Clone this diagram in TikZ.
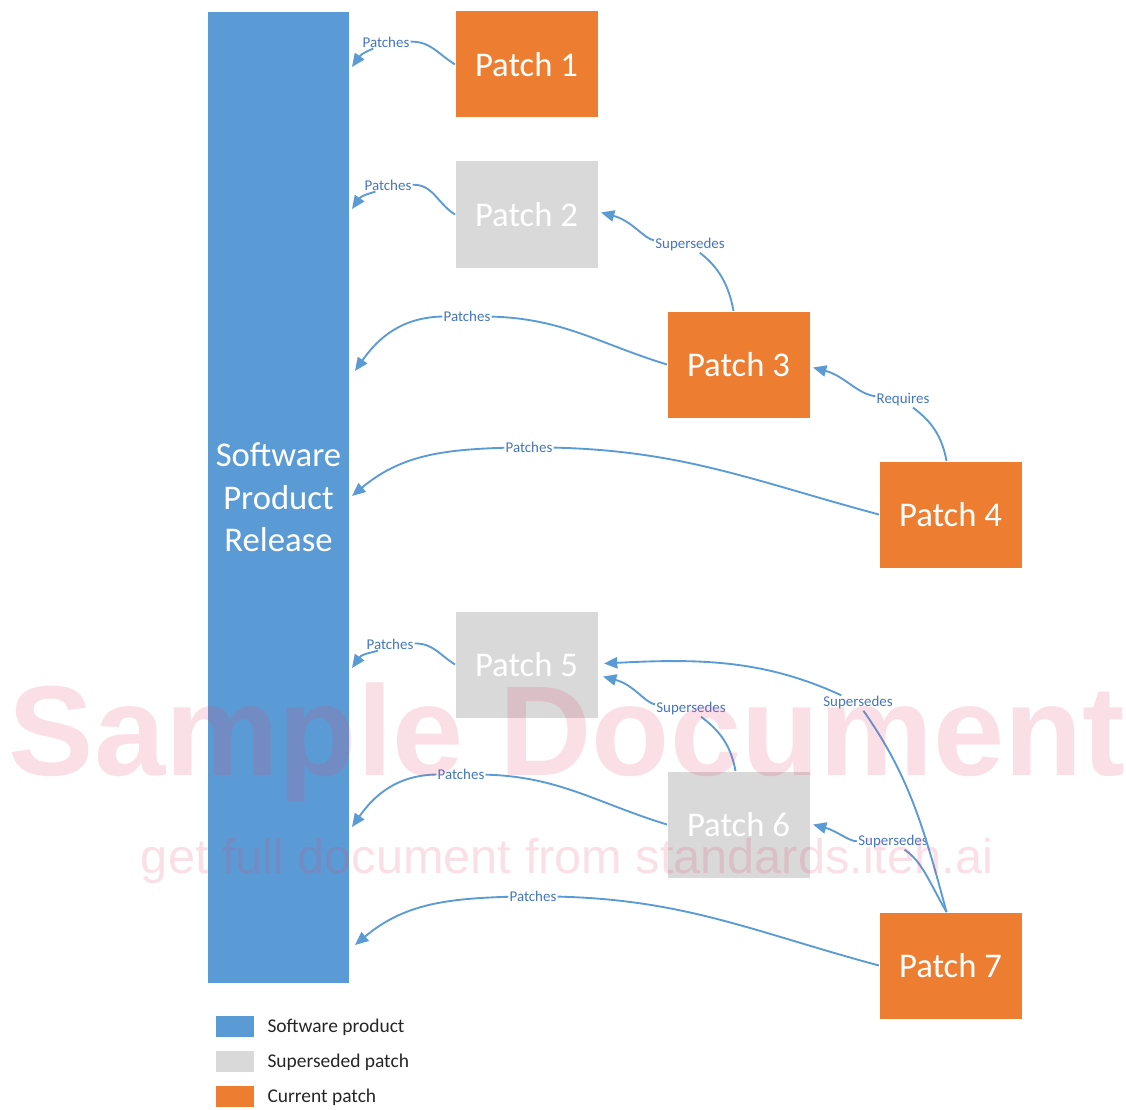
\documentclass[tikz,border=0pt]{standalone}
\usepackage{fontspec}
\setmainfont{Carlito}
\newfontfamily\markfont{Liberation Sans}
\usetikzlibrary{arrows.meta,calc}

\definecolor{prodblue}{RGB}{91,155,213}
\definecolor{linkblue}{RGB}{91,155,213}
\definecolor{labelblue}{RGB}{68,118,192}
\definecolor{oldgray}{RGB}{217,217,217}
\definecolor{curorange}{RGB}{237,125,49}
\definecolor{markpink}{RGB}{232,64,112}

\tikzset{every picture/.style={line width=0.75pt}}
\tikzset{
	patchbox/.style={minimum width=106.5pt, minimum height=79.5pt, inner sep=0pt, text=white, font=\fontsize{26}{31}\selectfont},
	current/.style={patchbox, fill=curorange},
	superseded/.style={patchbox, fill=oldgray},
	linklabel/.style={fill=white, inner sep=0.6pt, text=labelblue, font=\fontsize{11.2}{13}\selectfont},
	link/.style={draw=linkblue, line width=1.4pt, -{Triangle[length=10pt,width=8.5pt]}},
	keybox/.style={minimum width=28.5pt, minimum height=15.75pt, inner sep=0pt},
	keytext/.style={anchor=west, inner sep=0pt, text=black!85, font=\fontsize{14.6}{17}\selectfont},
}

\begin{document}
\begin{tikzpicture}[x=0.75pt,y=0.75pt,yscale=-1,xscale=1]
	\useasboundingbox (0,0) rectangle (1126,1109);

	%Shape: Rectangle [id:bar]
	\node [fill=prodblue, minimum width=105.75pt, minimum height=728.25pt, inner sep=0pt, text=white, align=center, font=\fontsize{26}{32}\selectfont] (bar) at (278.5,497.5) {Software\\Product\\Release};

	%Shape: Rectangle [id:patches]
	\node [current] (p1) at (526.5,64.5) {Patch 1};
	\node [superseded] (p2) at (526.5,214.5) {Patch 2};
	\node [current] (p3) at (738.5,364.5) {Patch 3};
	\node [current] (p4) at (950.5,514.5) {Patch 4};
	\node [superseded] (p5) at (526.5,664.5) {Patch 5};
	\node [superseded] (p6) at (738.5,824.5) {Patch 6};
	\node [current] (p7) at (950.5,965.5) {Patch 7};

	%Arrow ends on the release bar
	\coordinate (e1) at (352,67);
	\coordinate (e2) at (352,209);
	\coordinate (e3) at (355,371);
	\coordinate (e4) at (352,496);
	\coordinate (e5) at (352,668);
	\coordinate (e6) at (352,827);
	\coordinate (e7) at (355,945);

	%Text labels
	\node [linklabel] (l1) at (386,42) {Patches};
	\node [linklabel] (l2) at (388,185) {Patches};
	\node [linklabel] (l3) at (467,316) {Patches};
	\node [linklabel] (l4) at (529,447) {Patches};
	\node [linklabel] (l5) at (390,644) {Patches};
	\node [linklabel] (l6) at (461,774) {Patches};
	\node [linklabel] (l7) at (533,896) {Patches};
	\node [linklabel] (s32) at (690,245) {Supersedes};
	\node [linklabel] (r43) at (903,400) {Requires};
	\node [linklabel] (s65) at (691,709) {Supersedes};
	\node [linklabel] (s75) at (858,703) {Supersedes};
	\node [linklabel] (s76) at (893,842) {Supersedes};

	%Curve Lines: patches
	\draw [link] (p1.west) to[out=212,in=8] (l1) to[out=125,in=-55] (e1);
	\draw [link] (p2.west) to[out=212,in=8] (l2) to[out=125,in=-55] (e2);
	\draw [link] (p3.west) to[out=197,in=3] (l3) to[out=175,in=-55] (e3);
	\draw [link] (p4.west) to[out=195,in=2] (l4) to[out=176,in=-40] (e4);
	\draw [link] (p5.west) to[out=212,in=8] (l5) to[out=125,in=-55] (e5);
	\draw [link] (p6.west) to[out=197,in=3] (l6) to[out=175,in=-55] (e6);
	\draw [link] (p7.west) to[out=195,in=2] (l7) to[out=176,in=-40] (e7);

	%Curve Lines: supersedes and requires
	\draw [link] ($(p3.north)+(-5,0)$) to[out=260,in=55] (s32) to[out=205,in=15] ($(p2.east)+(3,-2)$);
	\draw [link] ($(p4.north)+(-4,0)$) to[out=260,in=55] (r43) to[out=205,in=15] ($(p3.east)+(3,3)$);
	\draw [link] ($(p6.north)+(-3,0)$) to[out=260,in=55] (s65) to[out=205,in=15] ($(p5.east)+(5,12)$);
	\draw [link] ($(p7.north)+(-4,0)$) to[out=255,in=60] (s75) to[out=212,in=-3] ($(p5.east)+(6,-1)$);
	\draw [link] ($(p7.north)+(-4,0)$) to[out=240,in=50] (s76) to[out=200,in=15] ($(p6.east)+(3,0)$);

	%Legend
	\node [keybox, fill=prodblue] (k1) at (235,1026.5) {};
	\node [keybox, fill=oldgray] (k2) at (235,1061) {};
	\node [keybox, fill=curorange] (k3) at (235,1096.5) {};
	\node [keytext] (t1) at (267,1027) {Software product};
	\node [keytext] (t2) at (267,1062) {Superseded patch};
	\node [keytext] (t3) at (267,1097) {Current patch};

	%Watermark
	\node [anchor=base, inner sep=0pt, text=markpink, text opacity=0.17, font=\markfont\bfseries\fontsize{96}{100}\selectfont] (mark1) at (567,775) {Sample Document};
	\node [anchor=base, inner sep=0pt, text=markpink, text opacity=0.17, font=\markfont\fontsize{36.5}{40}\selectfont] (mark2) at (567,873) {get full document from standards.iteh.ai};

\end{tikzpicture}
\end{document}
